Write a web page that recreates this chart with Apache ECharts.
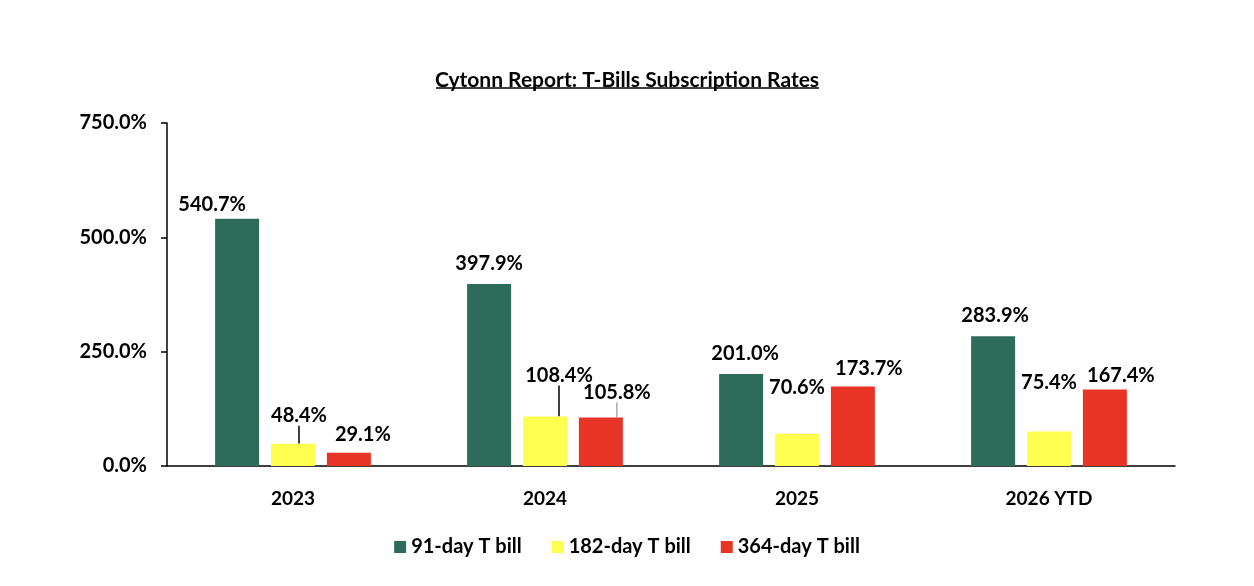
<!DOCTYPE html>
<html>
<head>
<meta charset="utf-8">
<script src="https://cdn.jsdelivr.net/npm/echarts@6/dist/echarts.min.js"></script>
<style>
  html, body { margin: 0; padding: 0; background: #fff; }
  #chart { width: 1254px; height: 586px; }
</style>
</head>
<body>
<div id="chart"></div>
<script>
(function(){
    var years = ['2023', '2024', '2025', '2026 YTD'];
    var bill91 = [540.7, 397.9, 201.0, 283.9];
    var bill182 = [48.4, 108.4, 70.6, 75.4];
    var bill364 = [29.1, 105.8, 173.7, 167.4];
    var yTicks = [0, 250, 500, 750];

    // label nudges [dx, dy] per series, per year
    var nudge = [
        [[-25, 1], [0, -5], [4, -6], [2, -6]],
        [[6, -13], [14, -26], [0, -31], [0, -34]],
        [[14, -3], [16, -10], [16, -3], [16, 1]]
    ];
    // which labels get a leader line, and its colour
    var leader = [
        [null, null, null, null],
        ['#000', '#000', null, null],
        [null, '#aaa', null, null]
    ];

    var font = 'Lato, "Open Sans", sans-serif';

    function items(values, s) {
        return values.map(function (v, i) {
            var it = { value: v };
            if (leader[s][i]) {
                it.labelLine = { show: true, lineStyle: { color: leader[s][i], width: 1.5 } };
            }
            return it;
        });
    }

    var chart = echarts.init(document.getElementById('chart'));

    var label = {
        show: true,
        position: 'top',
        distance: 5,
        color: '#000',
        fontFamily: font,
        fontWeight: 'bold',
        fontSize: 20,
        formatter: function (p) { return p.value.toFixed(1) + '%'; }
    };

    var option = {
        backgroundColor: '#fff',
        animation: false,
        title: {
            text: 'Cytonn Report: T-Bills Subscription Rates',
            left: 'center',
            top: 65,
            textStyle: {
                color: '#000',
                fontFamily: font,
                fontWeight: 'bold',
                fontSize: 21
            }
        },
        graphic: [{
            type: 'line',
            id: 'underline',
            shape: { x1: 436, y1: 88, x2: 819, y2: 88 },
            style: { stroke: '#000', lineWidth: 1.5 }
        }],
        legend: {
            bottom: 24,
            left: 'center',
            itemWidth: 12,
            itemHeight: 12,
            itemGap: 30,
            icon: 'rect',
            textStyle: {
                color: '#000',
                fontFamily: font,
                fontWeight: 'bold',
                fontSize: 20
            },
            data: ['91-day T bill', '182-day T bill', '364-day T bill']
        },
        grid: {
            left: 167,
            right: 79,
            top: 123,
            bottom: 120,
            containLabel: false
        },
        xAxis: {
            type: 'category',
            data: years,
            axisLine: { lineStyle: { color: '#000', width: 1.5 } },
            axisTick: { show: false },
            axisLabel: {
                color: '#000',
                fontFamily: font,
                fontWeight: 'bold',
                fontSize: 19,
                margin: 23
            }
        },
        yAxis: {
            type: 'value',
            min: yTicks[0],
            max: yTicks[yTicks.length - 1],
            interval: yTicks[1] - yTicks[0],
            splitLine: { show: false },
            axisLine: { show: true, lineStyle: { color: '#000', width: 1.5 } },
            axisTick: { show: true, length: 6, lineStyle: { color: '#000', width: 1.5 } },
            axisLabel: {
                color: '#000',
                fontFamily: font,
                fontWeight: 'bold',
                fontSize: 20,
                margin: 20,
                formatter: function (v) { return v.toFixed(1) + '%'; }
            }
        },
        labelLayout: function (p) {
            var n = nudge[p.seriesIndex][p.dataIndex];
            return { dx: n[0], dy: n[1] };
        },
        series: [
            {
                name: '91-day T bill',
                type: 'bar',
                barWidth: 44,
                barGap: '27%',
                label: label,
                data: items(bill91, 0)
            },
            {
                name: '182-day T bill',
                type: 'bar',
                barWidth: 44,
                barGap: '27%',
                label: label,
                data: items(bill182, 1)
            },
            {
                name: '364-day T bill',
                type: 'bar',
                barWidth: 44,
                barGap: '27%',
                label: label,
                data: items(bill364, 2)
            }
        ],
        color: ['#2e6b5b', '#ffff4f', '#e83424']
    };

    chart.setOption(option);
})();
</script>
</body>
</html>
